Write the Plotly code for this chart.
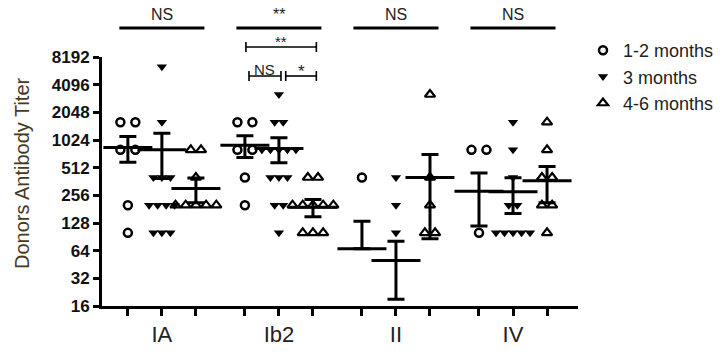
import plotly.graph_objects as go

# Titer groups and donor ages
groups = ["IA", "Ib2", "II", "IV"]
ages = ["1-2 months", "3 months", "4-6 months"]

# visible titers (points below 16 are not shown on the log axis)
ia_12 = [1600, 1600, 800, 800, 200, 100]
ia_3 = [6400, 1600, 400, 400, 400, 200, 200, 200, 200, 100, 100, 100]
ia_46 = [800, 800, 400, 200, 200, 200, 200, 200]
ib2_12 = [1600, 1600, 800, 800, 400, 200]
ib2_3 = [3200, 1600, 1600, 800, 800, 800, 800, 800, 400, 400, 400, 200, 200, 100]
ib2_46 = [400, 400, 200, 200, 200, 200, 200, 100, 100, 100]
ii_12 = [400]
ii_3 = [400, 200, 100]
ii_46 = [3200, 400, 200, 100, 100]
iv_12 = [800, 800, 100]
iv_3 = [1600, 800, 400, 200, 200, 100, 100, 100, 100, 100]
iv_46 = [1600, 800, 400, 400, 200, 200, 100]

# mean +/- SEM per group, one list per age
mean_12 = [850, 900, 67, 283]
sem_12 = [265, 241, 67, 164]
mean_3 = [800, 830, 50, 280]
sem_3 = [410, 250, 31, 118]
mean_46 = [304, 190, 400, 370]
sem_46 = [92, 40, 314, 158]

y_ticks = [16, 32, 64, 128, 256, 512, 1024, 2048, 4096, 8192]

data = {
    "1-2 months": [ia_12, ib2_12, ii_12, iv_12],
    "3 months": [ia_3, ib2_3, ii_3, iv_3],
    "4-6 months": [ia_46, ib2_46, ii_46, iv_46],
}
means = {"1-2 months": mean_12, "3 months": mean_3, "4-6 months": mean_46}
sems = {"1-2 months": sem_12, "3 months": sem_3, "4-6 months": sem_46}

centers = [0, 3.44, 6.88, 10.32]
offset = {"1-2 months": -1, "3 months": 0, "4-6 months": 1}
styles = {
    "1-2 months": dict(symbol="circle-open", size=8, line=dict(width=2.5, color="black"), color="black"),
    "3 months": dict(symbol="triangle-down", size=9, color="black", line=dict(width=0)),
    "4-6 months": dict(symbol="triangle-up-open", size=9, line=dict(width=2.2, color="black"), color="black"),
}
step = {"1-2 months": 0.44, "3 months": 0.25, "4-6 months": 0.3}


def spread(vals, xc, dx):
    # put equal values side by side, centred on the column
    xs, ys = [], []
    for v in sorted(set(vals), reverse=True):
        n = vals.count(v)
        for i in range(n):
            xs.append(xc + (i - (n - 1) / 2) * dx)
            ys.append(v)
    return xs, ys


fig = go.Figure()

for age in ages:
    xs, ys = [], []
    for g, vals in enumerate(data[age]):
        px_, py_ = spread(vals, centers[g] + offset[age], step[age])
        xs += px_
        ys += py_
    fig.add_trace(go.Scatter(x=xs, y=ys, mode="markers", name=age,
                             marker=styles[age]))

for age in ages:
    cols = [c + offset[age] for c in centers]
    minus = [s if m - s > 0 else 0 for m, s in zip(means[age], sems[age])]
    fig.add_trace(go.Scatter(
        x=cols, y=means[age], mode="markers", showlegend=False,
        marker=dict(symbol="line-ew", size=35, line=dict(width=3, color="black")),
        error_y=dict(type="data", array=sems[age], arrayminus=minus,
                     thickness=3, width=8.5, color="black"),
    ))

col_vals, col_text = [], []
for g, c in enumerate(centers):
    for age in ages:
        col_vals.append(c + offset[age])
        col_text.append(groups[g] if offset[age] == 0 else "")

fig.update_xaxes(range=[-1.76, 12.23], tickvals=col_vals, ticktext=col_text,
                 ticks="outside", ticklen=7, tickwidth=2.5, tickcolor="black",
                 showline=True, linewidth=3, linecolor="black",
                 showgrid=False, zeroline=False, automargin=False,
                 tickfont=dict(family="Liberation Sans", size=22, color="#222"))
fig.update_yaxes(type="log", range=[1.2041, 3.9134], tickvals=y_ticks,
                 ticktext=[str(t) for t in y_ticks],
                 ticks="outside", ticklen=6, tickwidth=2.5, tickcolor="black",
                 showline=True, linewidth=3, linecolor="black",
                 showgrid=False, zeroline=False, automargin=False,
                 tickfont=dict(family="Liberation Sans", size=17, color="#111", weight="bold"))


def pp(p):
    # screen pixel row -> paper y
    return (306 - p) / 249


shapes = []
annos = []
for g, c in enumerate(centers):
    shapes.append(dict(type="line", xref="x", yref="paper", x0=c - 1.25, x1=c + 1.25,
                       y0=pp(28), y1=pp(28), line=dict(color="black", width=3)))
    annos.append(dict(text="**" if groups[g] == "Ib2" else "NS", x=c, y=pp(15),
                      xref="x", yref="paper", showarrow=False, yanchor="middle",
                      borderpad=0,
                      font=dict(size=16, color="#222", family="Liberation Sans")))

# brackets inside Ib2
ib = centers[1]
brackets = [(-0.97, 1.1, 47, "**", 41, 15), (-0.88, 0.06, 76, "NS", 69, 15),
            (0.2, 1.1, 76, "*", 71, 17)]
for a, b, yb, txt, yt, fs in brackets:
    shapes.append(dict(type="line", xref="x", yref="paper", x0=ib + a, x1=ib + b,
                       y0=pp(yb), y1=pp(yb), line=dict(color="black", width=1.6)))
    for e in (a, b):
        shapes.append(dict(type="line", xref="x", yref="paper", x0=ib + e, x1=ib + e,
                           y0=pp(yb - 5), y1=pp(yb + 5), line=dict(color="black", width=1.6)))
    annos.append(dict(text=txt, x=ib + (a + b) / 2, y=pp(yt), xref="x", yref="paper",
                      showarrow=False, yanchor="middle", borderpad=0,
                      font=dict(size=fs, color="#222", family="Liberation Sans")))

annos.append(dict(text="Donors Antibody Titer", x=(22 - 102) / 476, y=pp(173),
                  xref="paper", yref="paper", showarrow=False, textangle=-90,
                  xanchor="center", yanchor="middle",
                  font=dict(size=20, color="#45391f", family="Liberation Sans")))

# the page body adds 8px, so margins are shifted by that amount
fig.update_layout(
    width=728, height=354,
    margin=dict(l=94, r=158, t=49, b=56, autoexpand=False),
    plot_bgcolor="white", paper_bgcolor="white",
    shapes=shapes, annotations=annos,
    legend=dict(x=1.0105, y=pp(32), xanchor="left", yanchor="top",
                font=dict(family="Liberation Sans", size=18, color="#222"),
                bgcolor="rgba(0,0,0,0)", itemwidth=30),
)

fig.write_html("out.html")
